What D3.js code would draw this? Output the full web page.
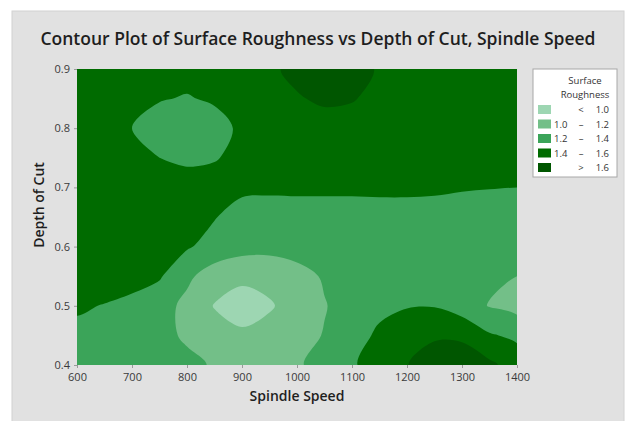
<!DOCTYPE html>
<html>
<head>
<meta charset="utf-8">
<script src="https://cdn.jsdelivr.net/npm/d3@7"></script>
<style>
  body { margin: 0; background: #fff; }
  text { font-family: "Open Sans", "Noto Sans", sans-serif; }
</style>
</head>
<body>
<div id="chart"></div>
<script>
// grid: speed columns, depth rows (top to bottom)
const speeds = [600, 650, 700, 750, 800, 850, 900, 950, 1000, 1050, 1100, 1150, 1200, 1250, 1300, 1350, 1400];
const depths = [0.9, 0.85, 0.8, 0.75, 0.7, 0.65, 0.6, 0.55, 0.5, 0.45, 0.4];
const roughness = [
  [1.50, 1.50, 1.48, 1.46, 1.45, 1.47, 1.50, 1.58, 1.63, 1.66, 1.64, 1.59, 1.53, 1.50, 1.50, 1.50, 1.50],
  [1.50, 1.48, 1.45, 1.41, 1.39, 1.42, 1.47, 1.53, 1.59, 1.62, 1.61, 1.56, 1.52, 1.50, 1.50, 1.50, 1.50],
  [1.50, 1.46, 1.40, 1.33, 1.30, 1.34, 1.43, 1.48, 1.53, 1.55, 1.54, 1.52, 1.50, 1.50, 1.50, 1.50, 1.50],
  [1.50, 1.48, 1.44, 1.40, 1.37, 1.39, 1.44, 1.48, 1.50, 1.51, 1.51, 1.50, 1.50, 1.50, 1.50, 1.50, 1.50],
  [1.50, 1.50, 1.49, 1.48, 1.47, 1.46, 1.44, 1.43, 1.43, 1.43, 1.43, 1.43, 1.42, 1.42, 1.41, 1.405, 1.40],
  [1.52, 1.52, 1.51, 1.49, 1.45, 1.41, 1.32, 1.32, 1.33, 1.33, 1.33, 1.34, 1.36, 1.35, 1.34, 1.33, 1.32],
  [1.54, 1.53, 1.51, 1.47, 1.42, 1.33, 1.27, 1.26, 1.28, 1.30, 1.31, 1.32, 1.33, 1.33, 1.31, 1.28, 1.27],
  [1.56, 1.52, 1.47, 1.42, 1.24, 1.10, 1.05, 1.06, 1.13, 1.22, 1.28, 1.31, 1.32, 1.31, 1.27, 1.24, 1.20],
  [1.43, 1.39, 1.35, 1.28, 1.15, 0.99, 0.90, 0.98, 1.08, 1.19, 1.28, 1.36, 1.39, 1.39, 1.30, 1.19, 1.13],
  [1.34, 1.33, 1.31, 1.26, 1.17, 1.08, 1.04, 1.07, 1.13, 1.21, 1.33, 1.43, 1.50, 1.58, 1.57, 1.42, 1.36],
  [1.30, 1.29, 1.28, 1.27, 1.25, 1.18, 1.12, 1.13, 1.18, 1.26, 1.37, 1.52, 1.595, 1.68, 1.70, 1.64, 1.51]
];
const levels = [1.0, 1.2, 1.4, 1.6];
const colors = ["#9dd6b2", "#73bf88", "#3ba459", "#006b00", "#005600"];
const legendLabels = [["", "<", "1.0"], ["1.0", "\u2013", "1.2"], ["1.2", "\u2013", "1.4"], ["1.4", "\u2013", "1.6"], ["", ">", "1.6"]];
const xTicks = [600, 700, 800, 900, 1000, 1100, 1200, 1300, 1400];
const yTicks = [0.4, 0.5, 0.6, 0.7, 0.8, 0.9];

const width = 633, height = 421;
const margin = { top: 69, right: 116, bottom: 56, left: 77 };

const svg = d3.select("#chart").append("svg")
  .attr("width", width)
  .attr("height", height);

svg.append("rect").attr("width", width).attr("height", height).attr("fill", "#fff");
svg.append("rect")
  .attr("x", 12).attr("y", 11)
  .attr("width", 612).attr("height", 412)
  .attr("fill", "#e1e1e1")
  .attr("stroke", "#d2d2d2");

const x = d3.scaleLinear()
  .domain(d3.extent(speeds))
  .range([margin.left, width - margin.right]);

const y = d3.scaleLinear()
  .domain(d3.extent(depths))
  .range([height - margin.bottom, margin.top]);

// grid cell centres sit at i + 0.5 in contour space
const gx = d3.scaleLinear().domain([0.5, speeds.length - 0.5]).range([x(speeds[0]), x(speeds[speeds.length - 1])]);
const gy = d3.scaleLinear().domain([0.5, depths.length - 0.5]).range([y(depths[0]), y(depths[depths.length - 1])]);

svg.append("clipPath").attr("id", "plot-clip")
  .append("rect")
  .attr("x", margin.left).attr("y", margin.top)
  .attr("width", width - margin.left - margin.right)
  .attr("height", height - margin.top - margin.bottom);

const contours = d3.contours()
  .size([speeds.length, depths.length])
  .thresholds([0, ...levels])(roughness.flat());

const ringLine = d3.line()
  .x(p => gx(p[0]))
  .y(p => gy(p[1]))
  .curve(d3.curveCatmullRomClosed.alpha(0.5));

svg.append("g")
  .attr("clip-path", "url(#plot-clip)")
  .selectAll("path")
  .data(contours)
  .enter()
  .append("path")
  .attr("d", c => c.coordinates.map(poly => poly.map(ring => ringLine(ring.slice(0, -1))).join("")).join(""))
  .attr("fill", (c, i) => colors[i]);

// axes
const xAxis = svg.append("g")
  .attr("transform", `translate(0,${height - margin.bottom})`)
  .call(d3.axisBottom(x).tickValues(xTicks).tickSize(3).tickPadding(5).tickFormat(d3.format("d")));

const yAxis = svg.append("g")
  .attr("transform", `translate(${margin.left},0)`)
  .call(d3.axisLeft(y).tickValues(yTicks).tickSize(3).tickPadding(4).tickFormat(d3.format(".1f")));

[xAxis, yAxis].forEach(g => {
  g.select(".domain").remove();
  g.selectAll(".tick line").attr("stroke", "#9a9a9a");
  g.selectAll(".tick text")
    .attr("fill", "#3a3a3a")
    .attr("font-size", 11)
    .style("font-family", "'Open Sans', sans-serif");
});

// titles
svg.append("text")
  .attr("x", 318)
  .attr("y", 45)
  .attr("font-size", 17.5)
  .attr("font-weight", 600)
  .attr("fill", "#1e1e1e")
  .style("text-anchor", "middle")
  .text("Contour Plot of Surface Roughness vs Depth of Cut, Spindle Speed");

svg.append("text")
  .attr("x", (x.range()[0] + x.range()[1]) / 2)
  .attr("y", 401)
  .attr("font-size", 14)
  .attr("font-weight", 600)
  .attr("fill", "#1e1e1e")
  .style("text-anchor", "middle")
  .text("Spindle Speed");

svg.append("text")
  .attr("transform", "rotate(-90)")
  .attr("x", -205)
  .attr("y", 44)
  .attr("font-size", 14)
  .attr("font-weight", 600)
  .attr("fill", "#1e1e1e")
  .style("text-anchor", "middle")
  .text("Depth of Cut");

// legend
const legend = svg.append("g");
legend.append("rect")
  .attr("x", 533).attr("y", 69)
  .attr("width", 84).attr("height", 108)
  .attr("fill", "#fff")
  .attr("stroke", "#a8a8a8");

legend.selectAll(".head")
  .data(["Surface", "Roughness"])
  .enter()
  .append("text")
  .attr("x", 585)
  .attr("y", (d, i) => 84 + i * 14)
  .attr("font-size", 9.5)
  .attr("fill", "#333")
  .style("text-anchor", "middle")
  .text(d => d);

const rows = legend.selectAll(".row")
  .data(legendLabels)
  .enter()
  .append("g")
  .attr("transform", (d, i) => `translate(0,${105 + i * 14.5})`);

rows.append("rect")
  .attr("x", 538).attr("y", 0)
  .attr("width", 13).attr("height", 9)
  .attr("fill", (d, i) => colors[i]);

rows.append("text").attr("x", 554).attr("y", 8).text(d => d[0]);
rows.append("text").attr("x", 581).attr("y", 8).style("text-anchor", "middle").text(d => d[1]);
rows.append("text").attr("x", 609).attr("y", 8).style("text-anchor", "end").text(d => d[2]);
rows.selectAll("text").attr("font-size", 9.5).attr("fill", "#333");
</script>
</body>
</html>
